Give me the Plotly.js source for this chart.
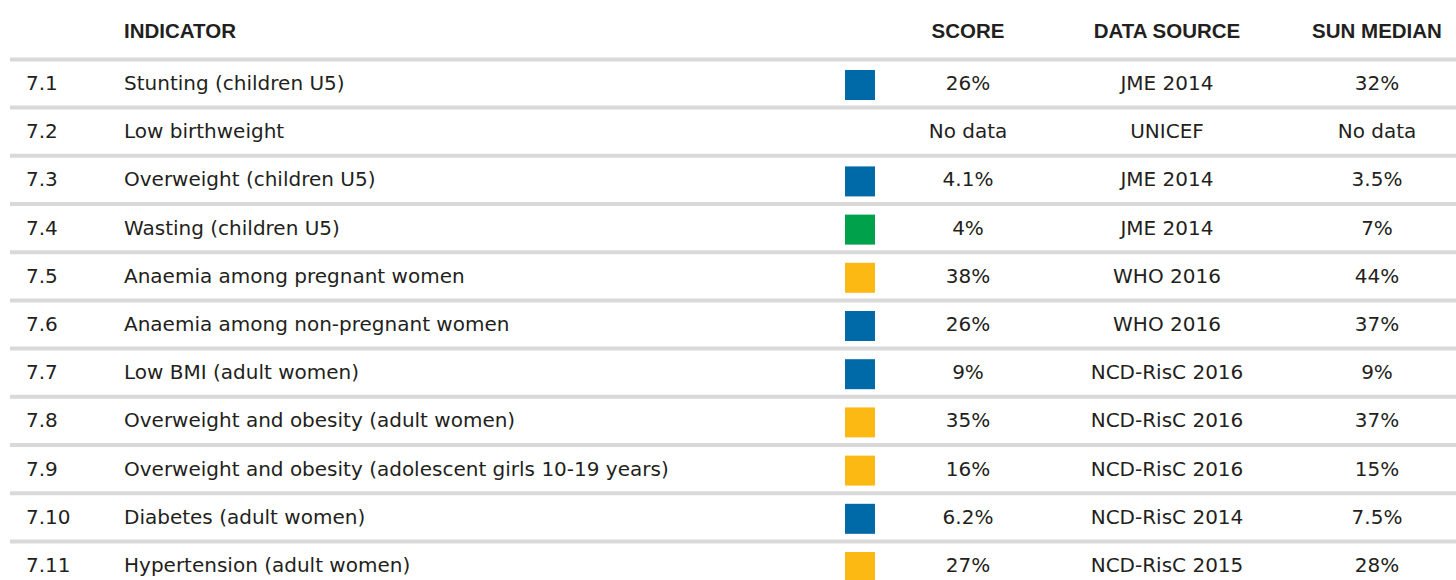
<!DOCTYPE html>
<html>
<head>
<meta charset="utf-8">
<script src="https://cdn.plot.ly/plotly-3.0.1.min.js"></script>
<style>html,body{margin:0;padding:0;background:#fff;}#chart{width:1456px;height:580px;}</style>
</head>
<body>
<div id="chart"></div>
<script>
const headers = ["INDICATOR", "SCORE", "DATA SOURCE", "SUN MEDIAN"];
const codes = ["7.1","7.2","7.3","7.4","7.5","7.6","7.7","7.8","7.9","7.10","7.11"];
const indicators = [
  "Stunting (children U5)",
  "Low birthweight",
  "Overweight (children U5)",
  "Wasting (children U5)",
  "Anaemia among pregnant women",
  "Anaemia among non-pregnant women",
  "Low BMI (adult women)",
  "Overweight and obesity (adult women)",
  "Overweight and obesity (adolescent girls 10-19 years)",
  "Diabetes (adult women)",
  "Hypertension (adult women)"
];
const status = ["blue", null, "blue", "green", "yellow", "blue", "blue", "yellow", "yellow", "blue", "yellow"];
const scores = ["26%","No data","4.1%","4%","38%","26%","9%","35%","16%","6.2%","27%"];
const sources = ["JME 2014","UNICEF","JME 2014","JME 2014","WHO 2016","WHO 2016","NCD-RisC 2016","NCD-RisC 2016","NCD-RisC 2016","NCD-RisC 2014","NCD-RisC 2015"];
const medians = ["32%","No data","3.5%","7%","44%","37%","9%","37%","15%","7.5%","28%"];

const colorMap = {blue: "#0069a7", green: "#00a14b", yellow: "#fdb913"};
const W = 1456, H = 580;
const headerY = 33, firstY = 85, pitch = 48.2;
const rowY = codes.map((_, i) => firstY + pitch * i);

const bodyFont = {family: "DejaVu Sans, sans-serif", size: 20, color: "#231f20"};
const headFont = {family: "Liberation Sans, sans-serif", size: 20.5, color: "#231f20"};

const traces = [];
// header
traces.push({x: [124], y: [headerY], text: ["<b>" + headers[0] + "</b>"], mode: "text", textposition: "middle right", textfont: headFont, hoverinfo: "skip"});
traces.push({x: [968, 1167, 1377], y: [headerY, headerY, headerY], text: headers.slice(1).map(h => "<b>" + h + "</b>"), mode: "text", textposition: "middle center", textfont: headFont, hoverinfo: "skip"});
// codes
traces.push({x: codes.map(() => 26), y: rowY, text: codes, mode: "text", textposition: "middle right", textfont: bodyFont, hoverinfo: "skip"});
// indicators
traces.push({x: codes.map(() => 124), y: rowY, text: indicators, mode: "text", textposition: "middle right", textfont: bodyFont, hoverinfo: "skip"});
// squares
const sqIdx = status.map((s, i) => s ? i : -1).filter(i => i >= 0);
traces.push({x: sqIdx.map(() => 860), y: sqIdx.map(i => rowY[i]), mode: "markers", marker: {symbol: "square", size: 30, color: sqIdx.map(i => colorMap[status[i]]), line: {width: 0}}, hoverinfo: "skip"});
// scores, sources, medians
traces.push({x: codes.map(() => 968), y: rowY, text: scores, mode: "text", textposition: "middle center", textfont: bodyFont, hoverinfo: "skip"});
traces.push({x: codes.map(() => 1167), y: rowY, text: sources, mode: "text", textposition: "middle center", textfont: bodyFont, hoverinfo: "skip"});
traces.push({x: codes.map(() => 1377), y: rowY, text: medians, mode: "text", textposition: "middle center", textfont: bodyFont, hoverinfo: "skip"});

const shapes = rowY.map(y => ({type: "line", xref: "x", yref: "y", x0: 10, x1: W, y0: y - pitch / 2 - 1.5, y1: y - pitch / 2 - 1.5, line: {color: "#d9d9d9", width: 4}, layer: "below"}));

const layout = {
  width: W, height: H,
  margin: {l: 0, r: 0, t: 0, b: 0},
  paper_bgcolor: "#ffffff", plot_bgcolor: "#ffffff",
  showlegend: false,
  xaxis: {range: [0, W], visible: false, fixedrange: true},
  yaxis: {range: [H, 0], visible: false, fixedrange: true},
  shapes: shapes
};
Plotly.newPlot("chart", traces, layout, {displayModeBar: false, staticPlot: true});
</script>
</body>
</html>
